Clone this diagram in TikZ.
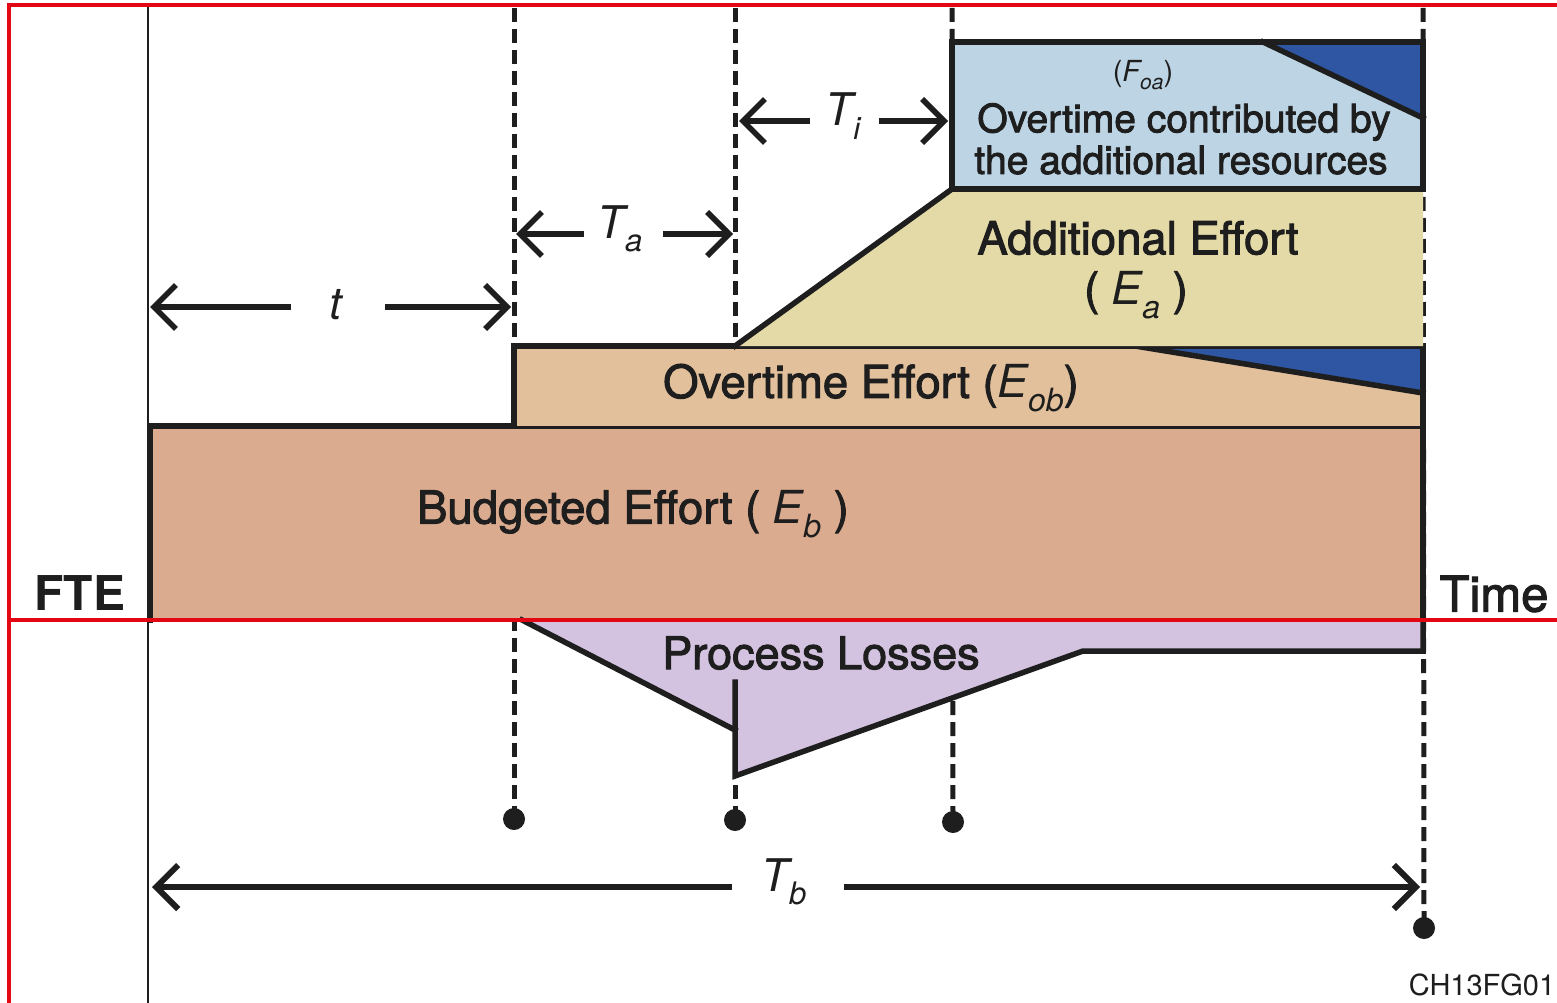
\documentclass[tikz,border=0pt]{standalone}
\usepackage{fontspec}
\setmainfont{TeX Gyre Heros}
\newfontfamily\medfont[FakeBold=2.2]{TeX Gyre Heros}
\usetikzlibrary{arrows.meta}
\definecolor{budget}{HTML}{DBAB90}
\definecolor{overt}{HTML}{E1C09B}
\definecolor{addl}{HTML}{E3DAA7}
\definecolor{oacol}{HTML}{BCD4E3}
\definecolor{dblue}{HTML}{2E56A2}
\definecolor{loss}{HTML}{D4C3E0}
\definecolor{redline}{HTML}{E30613}
\definecolor{ink}{HTML}{1E1E1E}
\newcommand\myit[1]{{\rmfamily\itshape #1}}
\newcommand\subx[2]{\raisebox{-0.3em}{\fontsize{#1}{#1}\selectfont\rmfamily\itshape #2}}
\begin{document}
\begin{tikzpicture}[x=1pt,y=-1pt,
  outline/.style={draw=ink,line width=5.5pt,line join=miter,line cap=rect},
  dashline/.style={draw=ink,line width=5pt,dash pattern=on 14pt off 7pt},
  dotnode/.style={circle,fill=ink,minimum size=22pt,inner sep=0pt},
  dimarrow/.style={draw=ink,line width=5.5pt,-{Straight Barb[length=22pt,width=44pt]}},
  lbl/.style={inner sep=0pt,text=ink,font=\medfont\fontsize{45.5}{50}\selectfont},
  dimlbl/.style={inner sep=0pt,text=ink,font=\rmfamily\itshape\fontsize{45}{50}\selectfont},
  redrule/.style={draw=redline,line width=3.5pt}
]
\useasboundingbox (0,0) rectangle (1557,1003);

% axis
\coordinate (axtop) at (148,5);
\coordinate (axbot) at (148,1003);
\draw[ink,line width=2.5pt] (axtop) -- (axbot);

% dashed time markers
\coordinate (d1top) at (514,8);
\coordinate (d2top) at (735,8);
\coordinate (d3top) at (952,8);
\coordinate (d4top) at (1423,8);
\node[dotnode] (dot1) at (514,819) {};
\node[dotnode] (dot2) at (735,820) {};
\node[dotnode] (dot3) at (953,822) {};
\node[dotnode] (dot4) at (1424,928) {};
\draw[dashline] (d1top) -- (dot1.center);
\draw[dashline] (d2top) -- (dot2.center);
\draw[dashline] (d3top) -- (dot3.center);
\draw[dashline] (d4top) -- (dot4.center);

% budgeted effort
\fill[budget] (150,426) rectangle (1423,620);
\draw[outline] (150,620) -- (150,426) -- (1423,426) -- (1423,620);

% overtime effort
\fill[overt] (514,346) rectangle (1423,426);
\fill[dblue] (1135,346) -- (1423,346) -- (1423,393) -- cycle;
\draw[outline] (514,426) -- (514,346) -- (1423,346) -- (1423,426);
\draw[outline] (1135,346) -- (1423,393);

% additional effort
\fill[addl] (735,346) -- (952,189) -- (1423,189) -- (1423,346) -- cycle;
\draw[outline] (735,346) -- (952,189);

% overtime contributed by additional resources
\fill[oacol] (952,42) rectangle (1423,189);
\fill[dblue] (1263,42) -- (1423,42) -- (1423,118) -- cycle;
\draw[outline] (952,42) rectangle (1423,189);
\draw[outline] (1263,42) -- (1423,118);

% process losses
\fill[loss] (522,620) -- (735,730) -- (735,776) -- (1083,651) -- (1423,651) -- (1423,620) -- cycle;
\draw[outline] (522,620) -- (735,730);
\draw[outline] (735,682) -- (735,776) -- (1083,651) -- (1423,651) -- (1423,620);

% red frame lines
\draw[redrule] (9,1003) -- (9,5) -- (1557,5);
\draw[redrule] (9,620) -- (1557,620);

% labels in shapes
\node[inner sep=0pt,text=ink,font=\rmfamily\fontsize{29}{30}\selectfont] (foa) at (1143,75) {(\myit{F}\subx{21}{oa})};
\node[lbl,font=\medfont\fontsize{39}{40}\selectfont] (oc1) at (1184,122) {Overtime contributed by};
\node[lbl,font=\medfont\fontsize{39}{40}\selectfont] (oc2) at (1181,160) {the additional resources};
\node[lbl] (ae1) at (1138,238) {Additional Effort};
\node[lbl] (ae2) at (1136,295) {( \myit{E}\subx{32}{a} )};
\node[lbl] (oe) at (871,388) {Overtime Effort (\myit{E}\subx{32}{ob})};
\node[lbl] (be) at (633,514) {Budgeted Effort ( \myit{E}\subx{32}{b} )};
\node[lbl,font=\medfont\fontsize{45}{50}\selectfont] (pl) at (821,653) {Process Losses};
\node[inner sep=0pt,text=ink,font=\bfseries\fontsize{48}{50}\selectfont] (fte) at (80,593) {FTE};
\node[lbl,font=\medfont\fontsize{49}{50}\selectfont] (time) at (1494,594) {Time};
\node[inner sep=0pt,text=ink,font=\rmfamily\fontsize{29}{30}\selectfont] (code) at (1482,985) {CH13FG01};

% dimension arrows
% t
\coordinate (tA) at (150,307);
\coordinate (tB) at (511,307);
\coordinate (t1) at (291,307);
\coordinate (t2) at (385,307);
\node[dimlbl] (tl) at (336,305) {t};
\draw[dimarrow] (t1) -- (tA);
\draw[dimarrow] (t2) -- (tB);
% Ta
\coordinate (aA) at (516,234);
\coordinate (aB) at (733,234);
\coordinate (a1) at (584,234);
\coordinate (a2) at (663,234);
\node[dimlbl] (al) at (620,229) {T\subx{31}{a}};
\draw[dimarrow] (a1) -- (aA);
\draw[dimarrow] (a2) -- (aB);
% Ti
\coordinate (iA) at (739,121);
\coordinate (iB) at (948,121);
\coordinate (i1) at (810,121);
\coordinate (i2) at (879,121);
\node[dimlbl] (il) at (843,116) {T\subx{31}{i}};
\draw[dimarrow] (i1) -- (iA);
\draw[dimarrow] (i2) -- (iB);
% Tb
\coordinate (bA) at (152,887);
\coordinate (bB) at (1420,887);
\coordinate (b1) at (732,887);
\coordinate (b2) at (844,887);
\node[dimlbl] (bl) at (784,882) {T\subx{31}{b}};
\draw[dimarrow,line width=6pt] (b1) -- (bA);
\draw[dimarrow,line width=6pt] (b2) -- (bB);
\end{tikzpicture}
\end{document}
